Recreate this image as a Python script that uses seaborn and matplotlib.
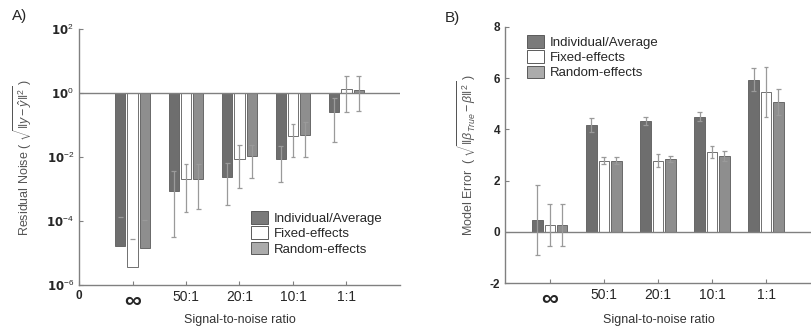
import numpy as np
import pandas as pd
import matplotlib
matplotlib.use("Agg")
import matplotlib.pyplot as plt
import seaborn as sns
from matplotlib.patches import Patch

# ---------------- data ----------------
snr_labels = ["\u221e", "50:1", "20:1", "10:1", "1:1"]
methods = ["Individual/Average", "Fixed-effects", "Random-effects"]

# Panel A: residual noise, log10 values
a_individual = [-4.77, -3.06, -2.64, -2.05, -0.58]
a_fixed = [-5.45, -2.69, -2.05, -1.35, 0.12]
a_random = [-4.85, -2.69, -1.98, -1.31, 0.10]
a_individual_lo = [np.nan, -4.49, -3.50, -2.78, -1.53]
a_individual_hi = [-3.87, -2.45, -2.19, -1.66, -0.15]
a_fixed_lo = [np.nan, -3.72, -2.96, -2.00, -0.60]
a_fixed_hi = [-4.57, -2.23, -1.61, -0.98, 0.52]
a_random_lo = [np.nan, -3.63, -2.65, -2.00, -0.55]
a_random_hi = [-3.97, -2.23, -1.61, -0.91, 0.52]

# Panel B: model error
b_individual = [0.46, 4.18, 4.32, 4.50, 5.94]
b_fixed = [0.27, 2.78, 2.78, 3.11, 5.46]
b_random = [0.27, 2.78, 2.86, 2.96, 5.07]
b_individual_err = [1.37, 0.27, 0.16, 0.18, 0.45]
b_fixed_err = [0.82, 0.13, 0.26, 0.24, 0.96]
b_random_err = [0.83, 0.13, 0.12, 0.18, 0.52]

a_yticks = [-6, -4, -2, 0, 2]
b_yticks = [-2, 0, 2, 4, 6, 8]

# ---------------- style ----------------
sns.set_style("ticks")
plt.rcParams["font.family"] = ["Liberation Sans", "DejaVu Sans"]
plt.rcParams["mathtext.fontset"] = "custom"
plt.rcParams["mathtext.rm"] = "Liberation Sans"
plt.rcParams["mathtext.it"] = "Liberation Sans:italic"

colors = {"Individual/Average": "#6e6e6e", "Fixed-effects": "#ffffff", "Random-effects": "#8e8e8e"}
legend_colors = {"Individual/Average": "#7a7a7a", "Fixed-effects": "#ffffff", "Random-effects": "#ababab"}
edge = "#5a5a5a"
err_color = "#9a9a9a"
spine_color = "#808080"

fig = plt.figure(figsize=(8.12, 3.32), dpi=100)
axA = fig.add_axes([79 / 812, (332 - 285) / 332, 321 / 812, 256 / 332])
axB = fig.add_axes([505 / 812, (332 - 283) / 332, 307 / 812, 256 / 332])


def make_df(ind, fix, ran):
    rows = []
    for m, vals in zip(methods, [ind, fix, ran]):
        for s, v in zip(snr_labels, vals):
            rows.append({"snr": s, "method": m, "value": v})
    return pd.DataFrame(rows)


def draw_err(ax, centers, lo, hi, cap=0.045):
    for x, l, h in zip(centers, lo, hi):
        if np.isfinite(l) and np.isfinite(h):
            ax.vlines(x, l, h, color=err_color, lw=0.9, zorder=5)
        for e in (l, h):
            if np.isfinite(e):
                ax.hlines(e, x - cap, x + cap, color=err_color, lw=0.9, zorder=5)


def bar_panel(ax, df):
    sns.barplot(data=df, x="snr", y="value", hue="method", hue_order=methods,
                order=snr_labels, palette=colors, width=0.69, gap=0.17,
                errorbar=None, edgecolor=edge, linewidth=0.6, legend=False,
                ax=ax, zorder=3)
    centers = {}
    patches = list(ax.patches)
    for i, m in enumerate(methods):
        ps = patches[i * len(snr_labels):(i + 1) * len(snr_labels)]
        centers[m] = [p.get_x() + p.get_width() / 2 for p in ps]
    return centers


def style_axis(ax, label_y):
    sns.despine(ax=ax)
    for sp in ["left", "bottom"]:
        ax.spines[sp].set_color(spine_color)
        ax.spines[sp].set_linewidth(1.0)
    ax.tick_params(axis="both", direction="in", length=3, color=spine_color, width=0.8)
    ax.set_xlabel("Signal-to-noise ratio", fontsize=9, color="#333333")
    ax.xaxis.set_label_coords(0.5, label_y)


def legend(ax, loc):
    handles = [Patch(facecolor=legend_colors[m], edgecolor=edge, linewidth=0.7, label=m) for m in methods]
    ax.legend(handles=handles, frameon=False, fontsize=9.5, handlelength=1.3, handleheight=1.1,
              handletextpad=0.4, labelspacing=0.12, loc="upper left", bbox_to_anchor=loc,
              borderaxespad=0)


# ---------------- Panel A ----------------
dfA = make_df(a_individual, a_fixed, a_random)
cA = bar_panel(axA, dfA)
draw_err(axA, cA["Individual/Average"], a_individual_lo, a_individual_hi)
draw_err(axA, cA["Fixed-effects"], a_fixed_lo, a_fixed_hi)
draw_err(axA, cA["Random-effects"], a_random_lo, a_random_hi)
axA.axhline(0, color=spine_color, lw=1.0, zorder=4)
axA.set_ylim(-6, 2)
axA.set_xlim(-1, 5)
axA.set_yticks(a_yticks)
axA.set_yticklabels([r"$\mathbf{10}^{%d}$" % t for t in a_yticks], fontsize=8.5)
axA.set_xticks([-1, 0, 1, 2, 3, 4])
axA.set_xticklabels(["0"] + snr_labels)
style_axis(axA, -0.115)
for i, lab in enumerate(axA.get_xticklabels()):
    if i == 0:
        lab.set_fontsize(8.5)
        lab.set_fontweight("bold")
    elif i == 1:
        lab.set_fontsize(17)
        lab.set_fontweight("bold")
    else:
        lab.set_fontsize(10)
axA.set_ylabel(r"Residual Noise ( $\sqrt{\|y-\hat{y}\|^2}$ )", fontsize=9, color="#555555", labelpad=8)
legend(axA, (0.52, 0.31))
fig.text(12 / 812, 1 - 16 / 332, "A)", fontsize=11, ha="left", va="center")

# ---------------- Panel B ----------------
dfB = make_df(b_individual, b_fixed, b_random)
cB = bar_panel(axB, dfB)
for m, vals, errs in [("Individual/Average", b_individual, b_individual_err),
                      ("Fixed-effects", b_fixed, b_fixed_err),
                      ("Random-effects", b_random, b_random_err)]:
    lo = [v - e for v, e in zip(vals, errs)]
    hi = [v + e for v, e in zip(vals, errs)]
    draw_err(axB, cB[m], lo, hi)
axB.axhline(0, color=spine_color, lw=1.0, zorder=4)
axB.set_ylim(-2, 8)
axB.set_xlim(-0.83, 4.85)
axB.set_yticks(b_yticks)
axB.set_yticklabels([str(t) for t in b_yticks], fontsize=8.5, fontweight="bold")
axB.set_xticks(range(len(snr_labels)))
axB.set_xticklabels(snr_labels)
style_axis(axB, -0.12)
for i, lab in enumerate(axB.get_xticklabels()):
    if i == 0:
        lab.set_fontsize(17)
        lab.set_fontweight("bold")
    else:
        lab.set_fontsize(10)
axB.set_ylabel(r"Model Error  ( $\sqrt{\|\beta_{True}-\beta\|^2}$ )", fontsize=9, color="#555555", labelpad=8)
legend(axB, (0.055, 0.99))
fig.text(445 / 812, 1 - 18 / 332, "B)", fontsize=11, ha="left", va="center")

fig.savefig("out.png", dpi=100)
